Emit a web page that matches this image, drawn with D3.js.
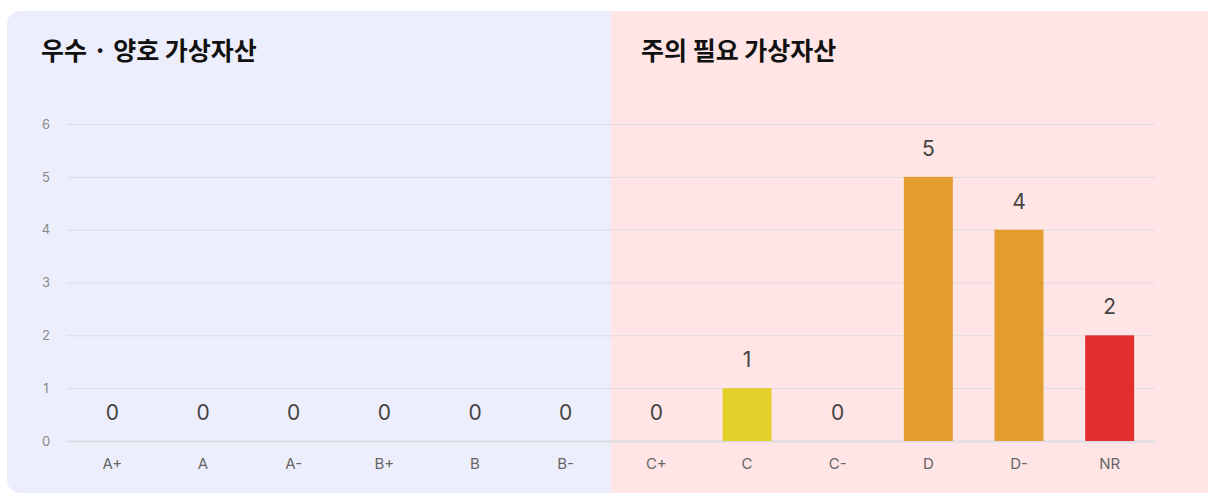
<!DOCTYPE html>
<html>
<head>
<meta charset="utf-8">
<script src="https://cdn.jsdelivr.net/npm/d3@7"></script>
<style>
  html, body { margin: 0; padding: 0; background: #fff; }
  svg { display: block; font-family: Inter, "Noto Sans CJK KR", sans-serif; }
</style>
</head>
<body>
<div id="app"></div>
<script>
// Chart data
const grades = ["A+", "A", "A-", "B+", "B", "B-", "C+", "C", "C-", "D", "D-", "NR"];
const counts = [0, 0, 0, 0, 0, 0, 0, 1, 0, 5, 4, 2];
const barColors = ["#e3d02a", "#e3d02a", "#e3d02a", "#e3d02a", "#e3d02a", "#e3d02a",
                   "#e3d02a", "#e3d02a", "#e39c2e", "#e39c2e", "#e39c2e", "#e32e2e"];
const yTicks = [0, 1, 2, 3, 4, 5, 6];
const groupTitles = ["우수 · 양호 가상자산", "주의 필요 가상자산"];

const width = 1208, height = 494;
const svg = d3.select("#app").append("svg")
  .attr("width", width)
  .attr("height", height);

const x = d3.scaleBand()
  .domain(grades)
  .range([67, 1155])
  .paddingInner(0.46)
  .paddingOuter(0.23);

const y = d3.scaleLinear()
  .domain([0, 6])
  .range([441, 124]);

// Background panels (split at band boundary between B- and C+)
const split = x("C+") - x.step() * x.paddingInner() / 2;
const clip = svg.append("defs").append("clipPath").attr("id", "card");
clip.append("rect")
  .attr("x", 7).attr("y", 11)
  .attr("width", 1213).attr("height", 482)
  .attr("rx", 13);

const bg = svg.append("g").attr("clip-path", "url(#card)");
bg.append("rect")
  .attr("x", 7).attr("y", 11)
  .attr("width", split - 7).attr("height", 482)
  .attr("fill", "#edeefb");
bg.append("rect")
  .attr("x", split).attr("y", 11)
  .attr("width", width - split + 20).attr("height", 482)
  .attr("fill", "#ffe5e5");

// Titles
svg.selectAll("text.title")
  .data(groupTitles)
  .join("text")
  .attr("class", "title")
  .attr("x", (d, i) => i === 0 ? 41 : split + 30)
  .attr("y", 60)
  .attr("font-family", "'Noto Sans CJK KR', sans-serif")
  .attr("font-size", 25)
  .attr("font-weight", 700)
  .attr("fill", "#111")
  .text(d => d);

// Grid lines + y axis labels
const yAxis = d3.axisLeft(y)
  .tickValues(yTicks)
  .tickFormat(d3.format("d"))
  .tickSize(-(1155 - 67));

const gy = svg.append("g")
  .attr("transform", "translate(67,0)")
  .call(yAxis);
gy.select(".domain").remove();
gy.selectAll(".tick line")
  .attr("stroke", "#dcdce3")
  .attr("stroke-width", 1);
gy.selectAll(".tick text")
  .attr("font-family", "Inter, sans-serif")
  .attr("font-size", 13)
  .attr("fill", "#8a8a8f")
  .attr("text-anchor", "middle")
  .attr("x", -21);

// x axis
const xAxis = d3.axisBottom(x).tickSize(0).tickPadding(17);
const gx = svg.append("g")
  .attr("transform", `translate(0,${y(0)})`)
  .call(xAxis);
gx.select(".domain")
  .attr("stroke", "#dcdce3")
  .attr("stroke-width", 2);
gx.selectAll(".tick text")
  .attr("font-family", "Inter, sans-serif")
  .attr("font-size", 15)
  .attr("fill", "#666");

// Bars
svg.selectAll("rect.bar")
  .data(counts)
  .join("rect")
  .attr("class", "bar")
  .attr("x", (d, i) => x(grades[i]))
  .attr("y", d => y(d))
  .attr("width", x.bandwidth())
  .attr("height", d => y(0) - y(d))
  .attr("fill", (d, i) => barColors[i]);

// Value labels
svg.selectAll("text.value")
  .data(counts)
  .join("text")
  .attr("class", "value")
  .attr("x", (d, i) => x(grades[i]) + x.bandwidth() / 2)
  .attr("y", d => y(d) - 21)
  .attr("text-anchor", "middle")
  .attr("font-family", "Inter, sans-serif")
  .attr("font-size", 21)
  .attr("fill", "#444")
  .text(d => d);
</script>
</body>
</html>
